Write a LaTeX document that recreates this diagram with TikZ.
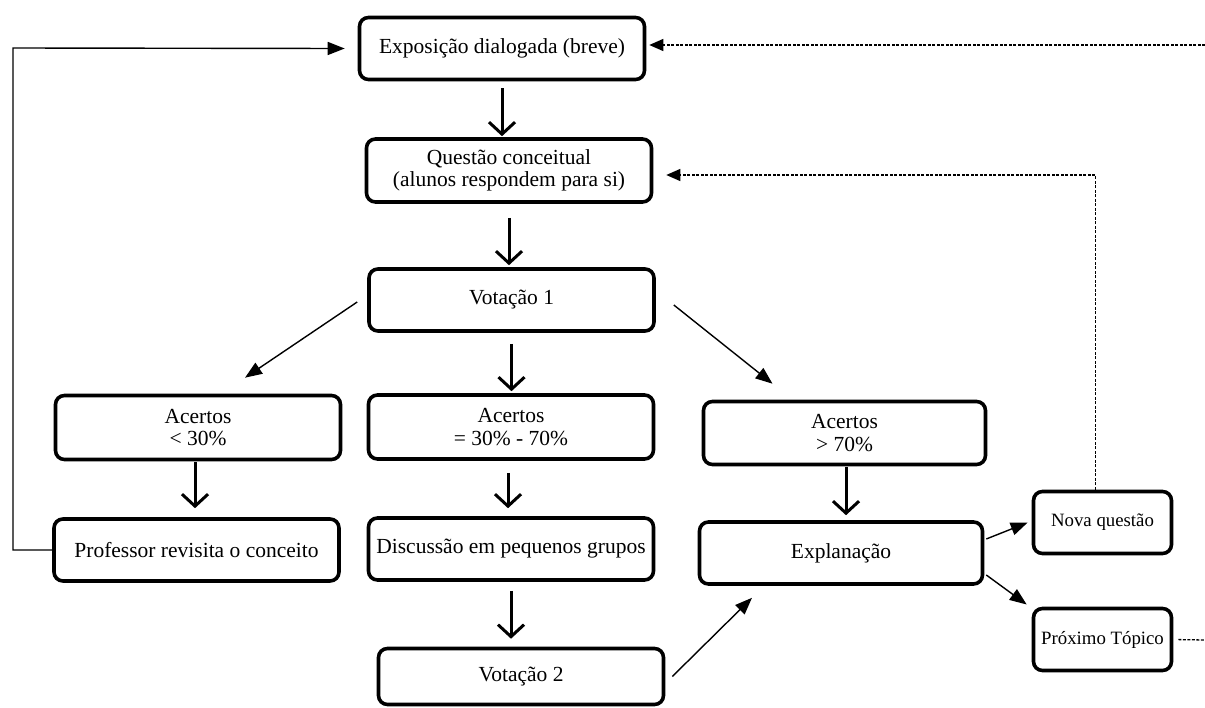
\documentclass[tikz,border=0pt]{standalone}
\usepackage{fontspec}
\setmainfont{Liberation Serif}
\usetikzlibrary{arrows.meta,calc}
\begin{document}
\begin{tikzpicture}[x=1pt,y=-1pt,
 box/.style={draw=black, line width=3.6pt, rounded corners=9pt, fill=white, align=center, inner sep=0pt, minimum width=285pt, minimum height=62pt, font=\fontsize{21.5}{22.5}\selectfont},
 smallbox/.style={box, minimum width=138pt, minimum height=62pt, font=\fontsize{18.8}{20}\selectfont},
 varrow/.style={line width=3pt, -{Straight Barb[length=12pt,width=26pt]}},
 tarrow/.style={line width=1.4pt, -{Triangle[length=17pt,width=13pt]}},
 darrow/.style={line width=1.3pt, dash pattern=on 3pt off 1.5pt, -{Triangle[length=14pt,width=12pt]}},
 dline/.style={line width=1.3pt, dash pattern=on 3pt off 1.5pt}]
\fill[white] (0,0) rectangle (1205,707);
\useasboundingbox (0,0) rectangle (1205,707);

% nodes
\node[box] (expo) at (502,48.5) {Exposição dialogada (breve)};
\node[box, minimum height=63pt] (quest) at (509,170.5) {Questão conceitual\\(alunos respondem para si)};
\node[box] (vot1) at (511.5,300) {Votação 1};
\node[box, minimum height=64pt] (ac1) at (198,427.5) {Acertos\\< 30\%};
\node[box, minimum height=64pt] (ac2) at (511,427) {Acertos\\= 30\% - 70\%};
\node[box, minimum width=282pt, minimum height=63pt] (ac3) at (844.5,433) {Acertos\\> 70\%};
\node[box] (prof) at (196.5,550) {Professor revisita o conceito};
\node[box] (disc) at (511,549) {Discussão em pequenos grupos};
\node[box, minimum width=283pt] (expl) at (841,553) {Explanação};
\node[box, minimum height=56pt] (vot2) at (521,676.5) {Votação 2};
\node[smallbox] (nova) at (1102.5,522.5) {Nova questão};
\node[smallbox] (prox) at (1102.5,639.5) {Próximo Tópico};

% free ends
\coordinate (lc) at (13,48);
\coordinate (rt) at (1205,45);
\coordinate (rb) at (1205,640);

% vertical thick arrows
\draw[varrow, shorten <=7pt, shorten >=1pt] (expo.south) -- (expo.south |- quest.north);
\draw[varrow, shorten <=14pt, shorten >=2pt] (quest.south) -- (quest.south |- vot1.north);
\draw[varrow, shorten <=11pt, shorten >=2pt] (vot1.south) -- (vot1.south |- ac2.north);
\draw[varrow, shorten <=1pt, shorten >=9pt] ($(ac1.south)+(-3,0)$) -- ($(ac1.south |- prof.north)+(-3,0)$);
\draw[varrow, shorten <=12pt, shorten >=8pt] ($(ac2.south)+(-3,0)$) -- ($(ac2.south |- disc.north)+(-3,0)$);
\draw[varrow, shorten <=1pt, shorten >=5pt] ($(ac3.south)+(1.5,0)$) -- ($(ac3.south |- expl.north)+(1.5,0)$);
\draw[varrow, shorten <=9pt, shorten >=8pt] (disc.south) -- (disc.south |- vot2.north);

% thin diagonal arrows
\draw[tarrow] ($(vot1.west)+(-10,2)$) -- ($(ac1.north)+(47,-16)$);
\draw[tarrow] ($(vot1.east)+(18,5)$) -- ($(ac3.north)+(-72,-16)$);
\draw[tarrow] ($(vot2.east)+(7,0)$) -- ($(expl.south)+(-89,12)$);
\draw[tarrow] ($(expl.east)+(2,-14)$) -- ($(nova.west)+(-4,0)$);
\draw[tarrow] ($(expl.east)+(2,22)$) -- ($(prox.west)+(-5,-35)$);

% feedback loop on the left
\draw[tarrow] (prof.west) -| (lc) -- ($(expo.west)+(-13,0)$);

% dashed connections on the right
\draw[darrow, shorten >=3pt] (rt) -- (expo.east |- rt);
\draw[darrow, shorten >=13pt] ($(nova.north)+(-7,0)$) |- ($(quest.east)+(0,4.5)$);
\draw[dline, shorten <=5pt] (prox.east) -- (rb);
\end{tikzpicture}
\end{document}
